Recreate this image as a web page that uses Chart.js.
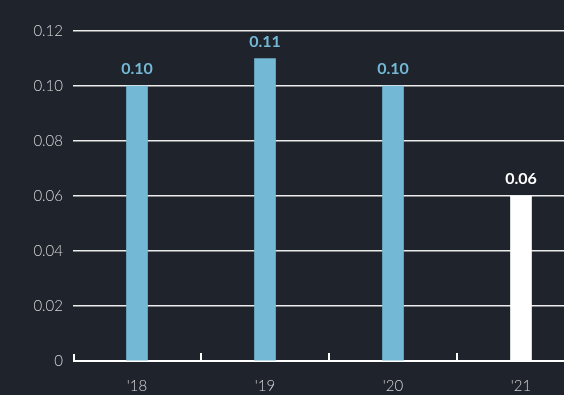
<!DOCTYPE html>
<html>
<head>
<meta charset="utf-8">
<script src="https://cdn.jsdelivr.net/npm/chart.js@4"></script>
<style>
html,body{margin:0;padding:0;background:#1f232b;overflow:hidden;}
#wrap{width:600px;height:395px;}
</style>
</head>
<body>
<div id="wrap"><canvas id="barChart" width="600" height="395"></canvas></div>
<script>
const years = ["'18","'19","'20","'21"];
const values = [0.10,0.11,0.10,0.06];
const barColors = ['#73b9d6','#73b9d6','#73b9d6','#ffffff'];
const yTicks = [0,0.02,0.04,0.06,0.08,0.10,0.12];

// value labels above each bar
const barLabels = {
id:'barLabels',
afterDatasetsDraw(chart){
const c = chart.ctx;
const meta = chart.getDatasetMeta(0);
c.save();
c.font = 'bold 16px Lato';
c.textAlign = 'center';
c.textBaseline = 'bottom';
meta.data.forEach(function(bar,i){
c.fillStyle = barColors[i];
c.fillText(values[i].toFixed(2), bar.x, bar.y - 9);
});
c.restore();
}
};

// baseline with small upward ticks between categories
const baseTicks = {
id:'baseTicks',
beforeDatasetsDraw(chart){
const c = chart.ctx;
const x = chart.scales.x;
const y0 = chart.scales.y.getPixelForValue(0);
c.save();
c.strokeStyle = '#ffffff';
c.lineWidth = 2;
c.beginPath();
c.moveTo(chart.chartArea.left, y0);
c.lineTo(chart.width, y0);
for(let i=1;i<years.length;i++){
let px = Math.round((x.getPixelForValue(i-1) + x.getPixelForValue(i))/2);
c.moveTo(px, y0);
c.lineTo(px, y0 - 8);
}
c.moveTo(chart.chartArea.left+1, y0);
c.lineTo(chart.chartArea.left+1, y0 - 7);
c.stroke();
c.restore();
}
};

const ctx = document.getElementById('barChart').getContext('2d');

const chart = new Chart(ctx, {
type:'bar',
data:{
labels:years,
datasets:[{
data:values,
backgroundColor:barColors,
barThickness:21,
borderWidth:0
}]
},
options:{
responsive:false,
animation:false,
layout:{padding:{top:31,right:15,left:0,bottom:0}},
plugins:{legend:{display:false},tooltip:{enabled:false}},
scales:{
x:{
offset:true,
grid:{display:false},
border:{display:false},
ticks:{color:'#d6d6d6',font:{family:'Lato',size:15,weight:'300'},padding:8},
afterFit(scale){ scale.height = 34; }
},
y:{
min:0,max:0.12,
afterBuildTicks(scale){ scale.ticks = yTicks.map(v => ({value:v})); },
grid:{color:function(c){ return c.tick.value===0 ? 'rgba(0,0,0,0)' : '#ececec'; },lineWidth:1.6,drawTicks:false},
border:{display:false},
ticks:{color:'#d6d6d6',font:{family:'Lato',size:15,weight:'300'},padding:10,
callback:function(v){ return v===0 ? '0' : v.toFixed(2); }},
afterFit(scale){ scale.width = 73; }
}
}
},
plugins:[baseTicks,barLabels]
});
</script>
</body>
</html>
